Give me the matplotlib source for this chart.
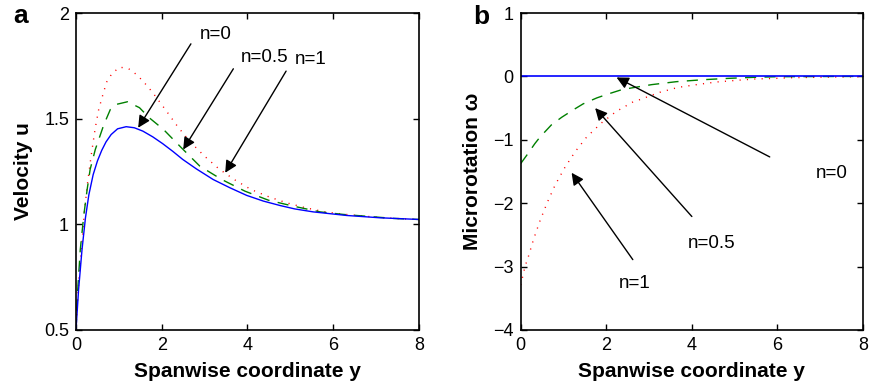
import matplotlib
matplotlib.use("Agg")
import matplotlib.pyplot as plt

plt.rcParams['font.family'] = ['Liberation Sans', 'DejaVu Sans']

# ---- Panel a: velocity u ----
ua_n0_y = [0, 0.06, 0.14, 0.22, 0.30, 0.40, 0.50, 0.60, 0.70, 0.82, 0.97, 1.17, 1.36, 1.56,
           1.79, 2.02, 2.26, 2.49, 2.81, 3.20, 3.59, 3.98, 4.37, 4.76, 5.10, 5.53, 6.31, 7.09, 8.0]
ua_n0_u = [0.5, 0.69, 0.88, 1.03, 1.14, 1.235, 1.30, 1.35, 1.39, 1.425, 1.452, 1.462, 1.457,
           1.441, 1.414, 1.382, 1.345, 1.307, 1.262, 1.212, 1.173, 1.137, 1.11, 1.089, 1.073,
           1.059, 1.042, 1.031, 1.023]

ua_n05_y = [0, 0.04, 0.10, 0.18, 0.26, 0.33, 0.45, 0.65, 0.80, 0.93, 1.20, 1.48, 1.71, 2.04,
            2.46, 2.89, 3.40, 3.94, 4.49, 5.07, 5.69, 6.23, 7.40, 8.0]
ua_n05_u = [0.5, 0.69, 0.88, 1.04, 1.165, 1.26, 1.354, 1.472, 1.543, 1.567, 1.58, 1.552, 1.504,
            1.449, 1.362, 1.275, 1.212, 1.157, 1.114, 1.086, 1.059, 1.047, 1.028, 1.023]

ua_n1_y = [0, 0.023, 0.062, 0.14, 0.19, 0.26, 0.35, 0.45, 0.53, 0.65, 0.72, 0.84, 1.02, 1.23,
           1.41, 1.56, 1.71, 1.85, 2.12, 2.38, 2.67, 2.99, 3.33, 3.69, 4.08, 4.50, 4.91, 5.36,
           5.81, 6.24, 6.70, 7.14, 7.60, 8.0]
ua_n1_u = [0.5, 0.597, 0.723, 0.913, 1.047, 1.181, 1.32, 1.457, 1.544, 1.63, 1.675, 1.714, 1.744,
           1.736, 1.709, 1.678, 1.643, 1.607, 1.533, 1.46, 1.389, 1.324, 1.263, 1.212, 1.165,
           1.13, 1.102, 1.078, 1.059, 1.048, 1.039, 1.032, 1.026, 1.023]

# ---- Panel b: microrotation omega ----
wb_n0_y = [0, 8]
wb_n0_w = [0, 0]

wb_n05_y = [0, 0.14, 0.33, 0.45, 0.72, 0.96, 1.23, 1.46, 1.78, 2.05, 2.34, 2.59, 3.06, 3.64,
            4.27, 4.85, 5.43, 6.0, 7.0, 8.0]
wb_n05_w = [-1.375, -1.245, -1.061, -0.958, -0.763, -0.644, -0.527, -0.433, -0.339, -0.276,
            -0.214, -0.182, -0.13, -0.083, -0.052, -0.031, -0.015, -0.005, -0.002, 0.0]

wb_n1_y = [0, 0.10, 0.18, 0.31, 0.45, 0.62, 0.80, 1.02, 1.27, 1.54, 1.88, 2.23, 2.61, 2.83,
           3.25, 3.68, 4.15, 4.58, 5.03, 5.47, 5.94, 6.37, 6.82, 7.29, 7.97]
wb_n1_w = [-3.29, -3.0, -2.84, -2.55, -2.28, -1.99, -1.72, -1.45, -1.19, -0.958, -0.738, -0.554,
           -0.408, -0.355, -0.251, -0.173, -0.126, -0.088, -0.063, -0.041, -0.031, -0.02,
           -0.015, -0.01, -0.005]

labels = ["n=0", "n=0.5", "n=1"]
xticks = [0, 2, 4, 6, 8]
a_yticks = [0.5, 1, 1.5, 2]
b_yticks = [-4, -3, -2, -1, 0, 1]

# annotation placement (text pos, arrow tail, arrow head) in data coords
a_text = [(3.27, 1.90), (4.41, 1.79), (5.48, 1.78)]
a_tail = [(2.68, 1.854), (3.67, 1.736), (4.90, 1.725)]
a_head = [(1.45, 1.457), (2.50, 1.354), (3.48, 1.244)]
b_text = [(7.27, -1.53), (4.46, -2.63), (2.67, -3.26)]
b_tail = [(5.82, -1.27), (4.0, -2.21), (2.62, -2.89)]
b_head = [(2.24, -0.016), (1.74, -0.50), (1.19, -1.52)]

fig = plt.figure(figsize=(8.69, 3.92), dpi=100)
ax1 = fig.add_axes([76 / 869, 1 - 330 / 392, 343 / 869, 317 / 392])
ax2 = fig.add_axes([520.7 / 869, 1 - 330 / 392, 342.3 / 869, 317 / 392])

blue = (0, 0, 1)
green = (0, 0.5, 0)
red = (1, 0, 0)

ax1.plot(ua_n1_y, ua_n1_u, color=red, lw=1.0, linestyle=(0, (0.8, 4.5)))
ax1.plot(ua_n05_y, ua_n05_u, color=green, lw=1.0, linestyle=(0, (8, 6)))
ax1.plot(ua_n0_y, ua_n0_u, color=blue, lw=1.0)

ax2.plot(wb_n1_y, wb_n1_w, color=red, lw=1.0, linestyle=(0, (0.8, 4.5)))
ax2.plot(wb_n05_y, wb_n05_w, color=green, lw=1.0, linestyle=(0, (8, 6)))
ax2.plot(wb_n0_y, wb_n0_w, color=blue, lw=1.2)

for ax, texts, tails, heads in [(ax1, a_text, a_tail, a_head), (ax2, b_text, b_tail, b_head)]:
    for lab, t, tl, hd in zip(labels, texts, tails, heads):
        ax.annotate("", xy=hd, xytext=tl,
                    arrowprops=dict(arrowstyle="-|>", color="black", lw=1.0,
                                    mutation_scale=18, shrinkA=0, shrinkB=0))
        ax.text(t[0], t[1], lab, fontsize=13.5, ha="center", va="center")

ax1.set_xlim(0, 8)
ax1.set_ylim(0.5, 2)
ax1.set_xticks(xticks)
ax1.set_yticks(a_yticks)
ax1.set_yticklabels(["0.5", "1", "1.5", "2"])
ax2.set_xlim(0, 8)
ax2.set_ylim(-4, 1)
ax2.set_xticks(xticks)
ax2.set_yticks(b_yticks)

for ax in (ax1, ax2):
    ax.tick_params(direction="in", top=True, right=True, length=4, width=1,
                   labelsize=13, pad=5)
    for sp in ax.spines.values():
        sp.set_linewidth(1.2)
    ax.set_xlabel("Spanwise coordinate y", fontsize=15, fontweight="bold", labelpad=6)

ax1.set_ylabel("Velocity u", fontsize=15, fontweight="bold", labelpad=8)
ax2.set_ylabel("Microrotation \u03c9", fontsize=15, fontweight="bold", labelpad=8)

fig.text(13 / 869, 1 - 16 / 392, "a", fontsize=19, fontweight="bold", va="center", ha="left")
fig.text(473 / 869, 1 - 17 / 392, "b", fontsize=19, fontweight="bold", va="center", ha="left")

fig.savefig("out.png", dpi=100)
